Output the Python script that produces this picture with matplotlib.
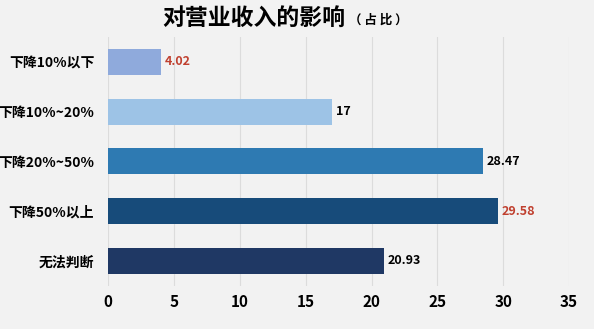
import matplotlib.pyplot as plt

plt.rcParams['font.family'] = ['Noto Sans CJK SC', 'DejaVu Sans']

# 对营业收入的影响（占比）
categories = ['下降10%以下', '下降10%~20%', '下降20%~50%', '下降50%以上', '无法判断']
values = [4.02, 17, 28.47, 29.58, 20.93]
value_labels = ['4.02', '17', '28.47', '29.58', '20.93']
bar_colors = ['#8faadc', '#9dc3e6', '#2e7ab2', '#174b7a', '#1f3864']
label_colors = ['#c0402f', 'black', 'black', '#c0402f', 'black']
xticks = [0, 5, 10, 15, 20, 25, 30, 35]

bg = '#f2f2f2'
fig = plt.figure(figsize=(5.94, 3.29), dpi=100, facecolor=bg)
ax = fig.add_axes([0.182, 0.131, 0.776, 0.757], facecolor=bg)

pos = list(range(len(categories)))
ax.barh(pos, values, height=0.52, color=bar_colors, zorder=3)
for p, v, t, c in zip(pos, values, value_labels, label_colors):
    ax.text(v + 0.3, p, t, va='center', ha='left', fontsize=9,
            fontweight='bold', color=c, zorder=4)

ax.set_xlim(0, 35)
ax.set_ylim(len(categories) - 0.5, -0.5)
ax.set_yticks(pos)
ax.set_yticklabels(categories, fontsize=10, fontweight='bold')
ax.set_xticks(xticks)
ax.set_xticklabels([str(x) for x in xticks], fontsize=11, fontweight='bold')
ax.tick_params(length=0, pad=10)
ax.tick_params(axis='x', pad=6)
ax.grid(axis='x', color='#dcdcdc', linewidth=0.8, zorder=0)
for s in ax.spines.values():
    s.set_visible(False)

fig.text(0.428, 0.945, '对营业收入的影响', ha='center', va='center',
         fontsize=16.5, fontweight='bold')
fig.text(0.587, 0.938, '（ 占 比 ）', ha='left', va='center',
         fontsize=9, fontweight='bold')

fig.savefig('out.png', dpi=100, facecolor=bg)
